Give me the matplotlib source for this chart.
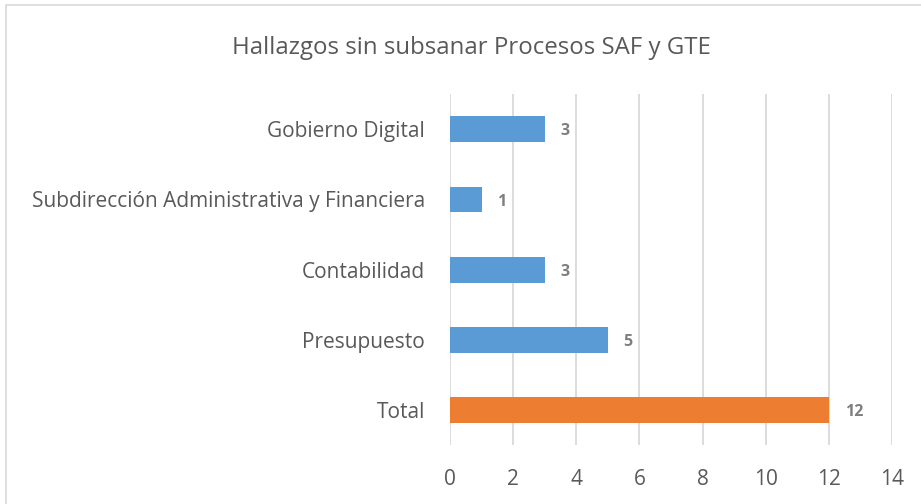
import matplotlib.pyplot as plt
from matplotlib.patches import Rectangle

categories = ["Total", "Presupuesto", "Contabilidad",
              "Subdirección Administrativa y Financiera", "Gobierno Digital"]
values = [12, 5, 3, 1, 3]
colors = ["#ed7d31", "#5b9bd5", "#5b9bd5", "#5b9bd5", "#5b9bd5"]

plt.rcParams['font.family'] = ['Open Sans', 'DejaVu Sans']

fig = plt.figure(figsize=(9.21, 5.04), dpi=100)
ax = fig.add_axes([0.4886, 0.117, 0.4799, 0.696])

ypos = list(range(len(categories)))
ax.barh(ypos, values, height=0.37, color=colors, zorder=3)

for y, v in zip(ypos, values):
    ax.text(v + 0.5, y - 0.03, str(v), va='center', ha='left', fontsize=11.5,
            fontweight='bold', color='#7f7f7f')

ax.set_xlim(0, 14)
ax.set_ylim(-0.5, 4.5)
ax.set_xticks(range(0, 15, 2))
ax.set_yticks(ypos)
ax.set_yticklabels(categories)
ax.tick_params(axis='both', length=0, labelsize=15, colors='#595959')
ax.tick_params(axis='y', pad=18)
ax.tick_params(axis='x', pad=17)
ax.grid(axis='x', color='#d9d9d9', linewidth=1.3, zorder=0)
for s in ax.spines.values():
    s.set_visible(False)

fig.text(0.512, 0.905, "Hallazgos sin subsanar Procesos SAF y GTE",
         ha='center', va='center', fontsize=17.3, color='#595959')

fig.patches.append(Rectangle((0.006, -0.05), 1.1, 1.04, transform=fig.transFigure,
                             fill=False, edgecolor='#d9d9d9', linewidth=1.2))

fig.savefig("out.png", dpi=100)
